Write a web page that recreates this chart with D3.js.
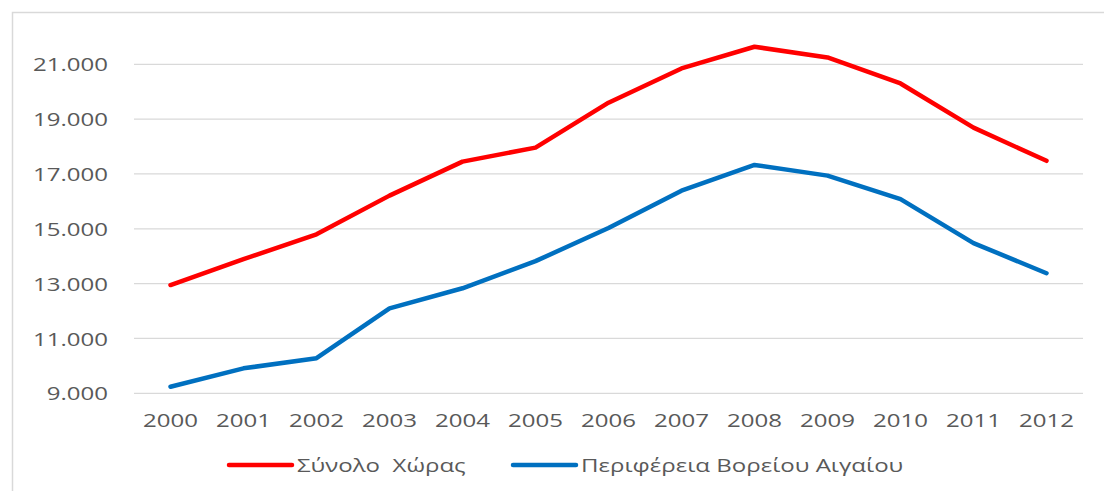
<!DOCTYPE html>
<html lang="el">
    <head>
        <meta charset="utf-8">
        <title>Σύνολο Χώρας - Περιφέρεια Βορείου Αιγαίου</title>
        <script type="text/javascript" src="https://cdn.jsdelivr.net/npm/d3@7"></script>
        <style>
            body { margin: 0; background: #fff; }
            text { font-family: "Open Sans", "Noto Sans", sans-serif; fill: #595959; }
        </style>
    </head>
    <body>
        <script type="text/javascript">

            //Data
            var years = ["2000", "2001", "2002", "2003", "2004", "2005", "2006",
                         "2007", "2008", "2009", "2010", "2011", "2012"];
            var synoloXoras = [12950, 13890, 14800, 16210, 17450, 17960, 19600,
                               20850, 21640, 21250, 20300, 18690, 17480];
            var voreioAigaio = [9240, 9910, 10280, 12100, 12830, 13820, 15030,
                                16390, 17330, 16940, 16080, 14480, 13380];
            var yTicks = [9000, 11000, 13000, 15000, 17000, 19000, 21000];
            var seriesNames = ["Σύνολο  Χώρας", "Περιφέρεια Βορείου Αιγαίου"];
            var seriesColors = ["#ff0000", "#0070c0"];

            //Size
            var w = 1104;
            var h = 491;
            var stretch = 1.3;   // text in the original is drawn wide

            var svg = d3.select("body")
                    .append("svg")
                    .attr("width", w)
                    .attr("height", h);

            //Frame
            svg.append("rect")
                    .attr("x", 12.5)
                    .attr("y", 12.5)
                    .attr("width", 1100)
                    .attr("height", 500)
                    .attr("fill", "none")
                    .attr("stroke", "#d9d9d9")
                    .attr("stroke-width", 1.5);

            //Scales
            var xScale = d3.scaleBand()
                    .domain(years)
                    .range([134, 1083]);

            var yScale = d3.scaleLinear()
                    .domain([9000, 21000])
                    .range([393.3, 64.3]);

            var locale = d3.formatLocale({
                decimal: ",", thousands: ".", grouping: [3], currency: ["", "€"]
            });
            var fmt = locale.format(",d");

            //Gridlines
            svg.append("g")
                    .selectAll("line")
                    .data(yTicks)
                    .enter()
                    .append("line")
                    .attr("x1", 134)
                    .attr("x2", 1083)
                    .attr("y1", function (d) { return yScale(d); })
                    .attr("y2", function (d) { return yScale(d); })
                    .attr("stroke", "#d9d9d9")
                    .attr("stroke-width", 1.3);

            //Y axis
            var yAxis = svg.append("g")
                    .attr("transform", "translate(134,0)")
                    .call(d3.axisLeft(yScale).tickValues(yTicks).tickFormat(fmt).tickSize(0));
            yAxis.select(".domain").remove();
            yAxis.selectAll("text")
                    .attr("x", 0)
                    .attr("dy", "0.36em")
                    .attr("transform", "translate(-26,0) scale(" + stretch + ",1)")
                    .style("font-size", "18.5px")
                    .style("fill", "#595959");

            //X axis
            var xAxis = svg.append("g")
                    .attr("transform", "translate(0,393.3)")
                    .call(d3.axisBottom(xScale).tickSize(0));
            xAxis.select(".domain").remove();
            xAxis.selectAll("text")
                    .attr("y", 0)
                    .attr("dy", 0)
                    .attr("transform", "translate(0,33.4) scale(" + stretch + ",1)")
                    .style("font-size", "18.5px")
                    .style("fill", "#595959");

            //Lines
            var line = d3.line()
                    .x(function (d, i) { return xScale(years[i]) + xScale.bandwidth() / 2; })
                    .y(function (d) { return yScale(d); });

            [synoloXoras, voreioAigaio].forEach(function (values, k) {
                svg.append("path")
                        .datum(values)
                        .attr("d", line)
                        .attr("fill", "none")
                        .attr("stroke", seriesColors[k])
                        .attr("stroke-width", 4.5)
                        .attr("stroke-linejoin", "round")
                        .attr("stroke-linecap", "round");
            });

            //Legend
            var legendX = [229, 513];
            var legend = svg.selectAll(".legend")
                    .data(seriesNames)
                    .enter()
                    .append("g")
                    .attr("class", "legend")
                    .attr("transform", function (d, i) { return "translate(" + legendX[i] + ",465)"; });

            legend.append("line")
                    .attr("x1", 0)
                    .attr("x2", 63)
                    .attr("stroke", function (d, i) { return seriesColors[i]; })
                    .attr("stroke-width", 4.5)
                    .attr("stroke-linecap", "round");

            legend.append("text")
                    .text(function (d) { return d; })
                    .attr("transform", "translate(68,6.7) scale(" + stretch + ",1)")
                    .style("white-space", "pre")
                    .style("font-size", "18.5px");

        </script>
    </body>
</html>
